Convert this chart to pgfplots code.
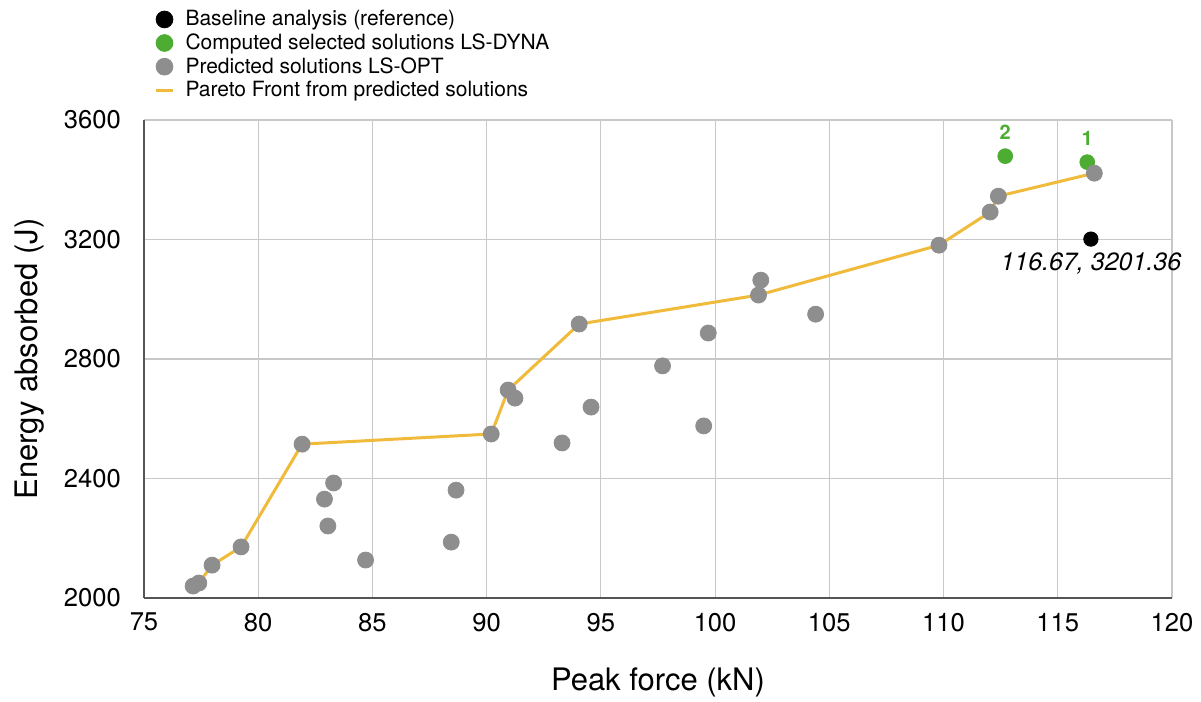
\documentclass[border=0pt]{standalone}
\usepackage{fontspec}
\setmainfont{TeX Gyre Heros}
\usepackage{pgfplots}
\pgfplotsset{compat=1.18}
\definecolor{ptgray}{RGB}{142,142,142}
\definecolor{ptgreen}{RGB}{76,173,50}
\definecolor{pforange}{RGB}{240,186,58}
\definecolor{gridgray}{RGB}{200,200,200}
\definecolor{axgray}{RGB}{85,85,85}
\begin{document}
\begin{tikzpicture}[x=1pt,y=1pt]
\useasboundingbox (-72,-52) rectangle (528.5,299);
\begin{axis}[
  at={(0,0)}, anchor=south west,
  scale only axis, width=514pt, height=239pt,
  xmin=75, xmax=120, ymin=2000, ymax=3600,
  xtick={75,80,...,120}, ytick={2000,2400,...,3600},
  grid=major, major grid style={gridgray, line width=0.6pt},
  axis x line=bottom, axis y line=left,
  axis line style={axgray, line width=0.9pt, -},
  major tick length=0pt,
  tick label style={font=\fontsize{12.8}{15}\selectfont},
  /pgf/number format/assume math mode=true,
  /pgf/number format/1000 sep={},
  yticklabel style={xshift=-8pt},
  xticklabel style={yshift=-4pt},
  xlabel={Peak force (kN)}, ylabel={Energy absorbed (J)},
  label style={font=\fontsize{15.5}{18}\selectfont},
  xlabel style={at={(axis description cs:0.5,-0.1757)}, anchor=center},
  ylabel style={at={(axis description cs:-0.1109,0.5)}, anchor=center},
  clip=false,
  legend cell align=left,
  legend style={draw=none, fill=none, at={(0.004,1.245)}, anchor=north west,
    font=\fontsize{10.5}{12}\selectfont, row sep=-0.5pt,
    nodes={inner sep=1.5pt},
    /tikz/every odd column/.append style={column sep=4pt}},
]
\addlegendimage{legend image code/.code={\fill[black] (4.25pt,0pt) circle (4.2pt);}}
\addlegendentry{Baseline analysis (reference)}
\addlegendimage{legend image code/.code={\fill[ptgreen] (4.25pt,0pt) circle (4.2pt);}}
\addlegendentry{Computed selected solutions LS-DYNA}
\addlegendimage{legend image code/.code={\fill[ptgray] (4.25pt,0pt) circle (4.2pt);}}
\addlegendentry{Predicted solutions LS-OPT}
\addlegendimage{legend image code/.code={\draw[pforange, line width=1.5pt] (0pt,0pt) -- (8.5pt,0pt);}}
\addlegendentry{Pareto Front from predicted solutions}

\addplot[pforange, line width=1.5pt, forget plot] coordinates {
(77.15,2040) (77.4,2050) (77.98,2110) (79.25,2171) (81.92,2515) (90.2,2549)
(90.94,2696) (94.05,2917) (101.9,3014) (109.8,3181) (112.04,3292) (112.4,3345) (116.6,3422)};

\addplot[only marks, mark=*, mark size=3.7pt, color=ptgreen, forget plot] coordinates {
(112.7,3479) (116.29,3459)};

\addplot[only marks, mark=*, mark size=3.6pt, color=black, forget plot] coordinates {
(116.45,3201.36)};

\addplot[only marks, mark=*, mark size=4pt, color=ptgray, forget plot] coordinates {
(77.15,2040) (77.4,2050) (77.98,2110) (79.25,2171) (81.92,2515) (90.2,2549)
(90.94,2696) (94.05,2917) (101.9,3014) (109.8,3181) (112.04,3292) (112.4,3345) (116.6,3422)
(91.24,2669) (83.3,2385) (82.9,2331) (83.05,2241) (84.7,2127) (88.66,2361) (88.45,2187)
(94.57,2639) (93.3,2519) (97.7,2777) (99.7,2887) (99.5,2576) (104.4,2950) (102.0,3064)};

\node[ptgreen, font=\bfseries\fontsize{10}{12}\selectfont, above=4.7pt] at (axis cs:112.7,3479) {2};
\node[ptgreen, font=\bfseries\fontsize{10}{12}\selectfont, above=4.7pt] at (axis cs:116.29,3459) {1};
\node[below=3.5pt, font=\itshape\fontsize{12.5}{15}\selectfont] at (axis cs:116.45,3201.36) {116.67, 3201.36};
\end{axis}
\end{tikzpicture}
\end{document}
